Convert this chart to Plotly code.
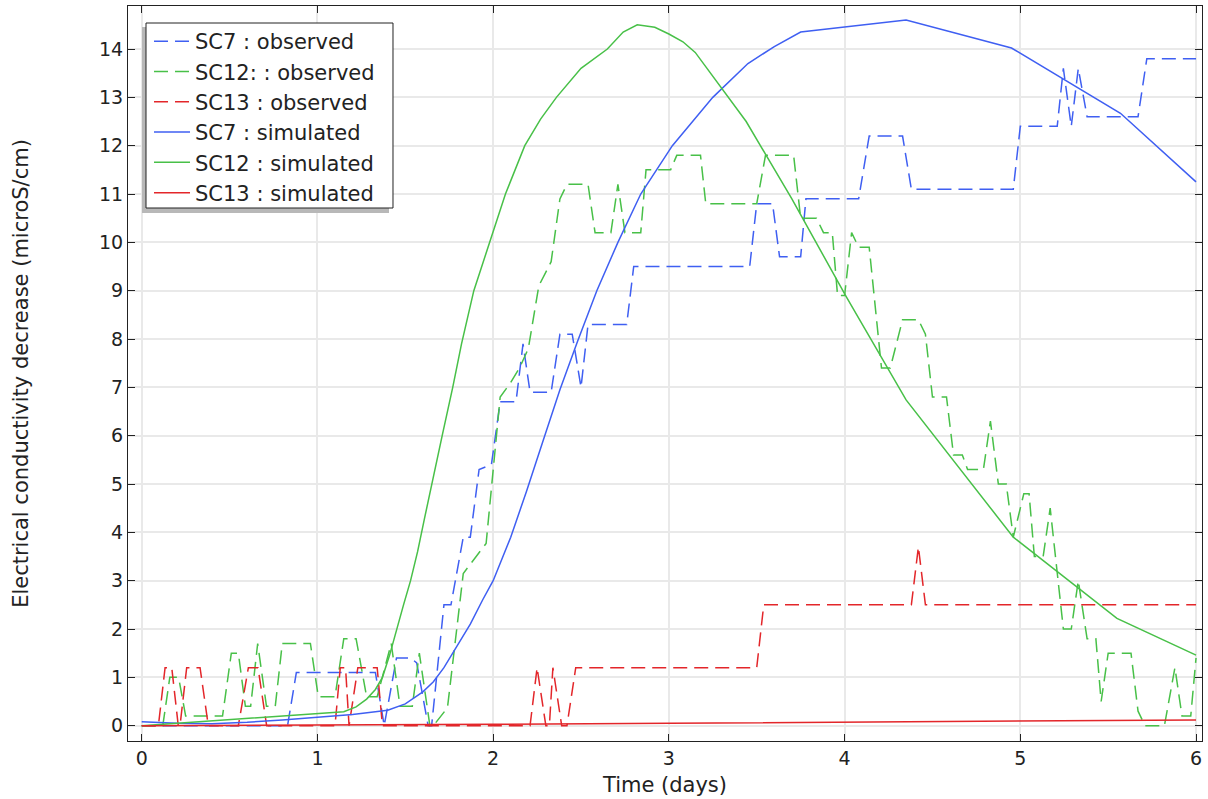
import plotly.graph_objects as go

# ---------------- data ----------------
sc7_obs_t = [0, 0.83, 0.88, 1.33, 1.38, 1.45, 1.53, 1.565, 1.63, 1.65, 1.72, 1.76, 1.83, 1.87,
             1.92, 1.99, 2.04, 2.13, 2.17, 2.21, 2.33, 2.38, 2.45, 2.50, 2.54, 2.76, 2.80,
             3.46, 3.50, 3.59, 3.63, 3.75, 3.78, 4.08, 4.14, 4.33, 4.38, 4.96, 5.00, 5.21,
             5.245, 5.29, 5.33, 5.38, 5.67, 5.72, 6.0]
sc7_obs_v = [0, 0, 1.1, 1.1, 0, 1.4, 1.4, 1.3, 0, 0, 2.5, 2.5, 3.9, 3.9,
             5.3, 5.4, 6.7, 6.7, 7.9, 6.9, 6.9, 8.1, 8.1, 7.0, 8.3, 8.3, 9.5,
             9.5, 10.8, 10.8, 9.7, 9.7, 10.9, 10.9, 12.2, 12.2, 11.1, 11.1, 12.4, 12.4,
             13.6, 12.4, 13.6, 12.6, 12.6, 13.8, 13.8]

sc12_obs_t = [0, 0.12, 0.16, 0.21, 0.25, 0.46, 0.51, 0.55, 0.59, 0.62, 0.66, 0.71, 0.76, 0.80,
              0.96, 1.005, 1.10, 1.15, 1.22, 1.28, 1.34, 1.42, 1.47, 1.54, 1.58, 1.64, 1.66,
              1.74, 1.83, 1.96, 2.04, 2.10, 2.15, 2.20, 2.26, 2.33, 2.38, 2.42, 2.54, 2.58,
              2.67, 2.71, 2.75, 2.84, 2.87, 3.01, 3.045, 3.18, 3.21, 3.50, 3.55, 3.71, 3.75,
              3.84, 3.88, 3.93, 3.96, 4.00, 4.04, 4.08, 4.14, 4.21, 4.26, 4.33, 4.42, 4.46,
              4.50, 4.58, 4.62, 4.67, 4.70, 4.79, 4.83, 4.875, 4.92, 4.96, 5.02, 5.05, 5.08,
              5.13, 5.17, 5.245, 5.29, 5.33, 5.38, 5.43, 5.46, 5.50, 5.63, 5.67, 5.71, 5.82,
              5.88, 5.92, 5.97, 6.0]
sc12_obs_v = [0, 0, 1.0, 1.0, 0.2, 0.2, 1.5, 1.5, 0.4, 0.4, 1.7, 0.4, 0.4, 1.7,
              1.7, 0.6, 0.6, 1.8, 1.8, 0.6, 0.6, 1.7, 0.4, 0.4, 1.5, 0, 0,
              0.37, 3.15, 3.77, 6.8, 7.1, 7.4, 7.8, 9.1, 9.6, 10.9, 11.2, 11.2, 10.2,
              10.2, 11.2, 10.2, 10.2, 11.5, 11.5, 11.8, 11.8, 10.8, 10.8, 11.8, 11.8, 10.5,
              10.5, 10.2, 10.2, 8.9, 8.9, 10.2, 9.9, 9.9, 7.4, 7.4, 8.4, 8.4, 8.1,
              6.8, 6.8, 5.6, 5.6, 5.3, 5.3, 6.3, 5.0, 5.0, 3.9, 4.8, 4.8, 3.5,
              3.5, 4.5, 2.0, 2.0, 3.0, 1.8, 1.8, 0.5, 1.5, 1.5, 0.3, 0, 0,
              1.2, 0.2, 0.2, 1.4]

sc13_obs_t = [0, 0.095, 0.133, 0.171, 0.208, 0.218, 0.256, 0.332, 0.379, 0.55, 0.607, 0.662,
              0.711, 1.10, 1.13, 1.16, 1.18, 1.23, 1.34, 1.37, 2.21, 2.25, 2.30, 2.32, 2.34,
              2.39, 2.42, 2.47, 3.50, 3.54, 4.38, 4.42, 4.46, 6.0]
sc13_obs_v = [0, 0, 1.2, 1.2, 0, 0, 1.2, 1.2, 0, 0, 1.2, 1.2,
              0, 0, 1.2, 1.2, 0, 1.2, 1.2, 0, 0, 1.2, 0, 0, 1.2,
              0, 0, 1.2, 1.2, 2.5, 2.5, 3.7, 2.5, 2.5]

sc7_sim_t = [0, 0.2, 0.4, 0.6, 0.8, 1.0, 1.2, 1.4, 1.5, 1.6, 1.66, 1.72, 1.79, 1.87, 1.94,
             2.0, 2.1, 2.19, 2.28, 2.38, 2.48, 2.59, 2.71, 2.84, 3.02, 3.25, 3.45, 3.6,
             3.75, 4.35, 4.95, 5.57, 6.0]
sc7_sim_v = [0.08, 0.05, 0.04, 0.07, 0.12, 0.18, 0.23, 0.32, 0.45, 0.7, 0.91, 1.2, 1.63,
             2.1, 2.6, 3.0, 3.9, 4.85, 5.85, 6.95, 7.95, 9.0, 10.0, 11.0, 12.0, 13.0, 13.7,
             14.05, 14.35, 14.6, 14.02, 12.67, 11.25]

sc12_sim_t = [0, 0.2, 0.5, 0.8, 1.0, 1.15, 1.22, 1.28, 1.33, 1.37, 1.41, 1.45, 1.49, 1.53,
              1.57, 1.61, 1.65, 1.71, 1.77, 1.82, 1.89, 1.98, 2.07, 2.18, 2.27, 2.36, 2.5,
              2.65, 2.74, 2.82, 2.92, 3.0, 3.08, 3.15, 3.35, 3.44, 3.7, 4.01, 4.35, 4.96,
              5.55, 6.0]
sc12_sim_v = [0.0, 0.05, 0.12, 0.2, 0.25, 0.29, 0.39, 0.55, 0.75, 1.0, 1.45, 2.0, 2.5, 3.0,
              3.6, 4.3, 5.0, 6.0, 7.0, 7.9, 9.0, 10.0, 11.0, 12.0, 12.55, 13.0, 13.6,
              14.0, 14.35, 14.5, 14.45, 14.31, 14.15, 13.93, 12.94, 12.5, 10.9, 8.87, 6.74,
              3.9, 2.22, 1.46]

sc13_sim_t = [0, 1, 2, 3, 4, 5, 6]
sc13_sim_v = [0.0, 0.01, 0.03, 0.05, 0.075, 0.1, 0.12]

names = ["SC7 : observed", "SC12: : observed", "SC13 : observed",
         "SC7 : simulated", "SC12 : simulated", "SC13 : simulated"]

BLUE = "#3f5ff2"
GREEN = "#48c048"
RED = "#e3262a"
DASH = "14px,7px"

fig = go.Figure()
series = [
    (sc7_obs_t, sc7_obs_v, BLUE, DASH),
    (sc12_obs_t, sc12_obs_v, GREEN, DASH),
    (sc13_obs_t, sc13_obs_v, RED, DASH),
    (sc7_sim_t, sc7_sim_v, BLUE, "solid"),
    (sc12_sim_t, sc12_sim_v, GREEN, "solid"),
    (sc13_sim_t, sc13_sim_v, RED, "solid"),
]
for (t, v, c, d), n in zip(series, names):
    fig.add_trace(go.Scatter(x=t, y=v, mode="lines", name=n,
                             line=dict(color=c, width=1.5, dash=d)))

FONT = "DejaVu Sans"
axis_common = dict(showgrid=True, gridcolor="#e9e9e9", gridwidth=2, zeroline=False,
                   showline=True, linecolor="#222222", linewidth=1, mirror="ticks",
                   ticks="inside", ticklen=7, tickcolor="#222222", tickwidth=1,
                   tickfont=dict(family=FONT, size=19, color="#222222"), dtick=1)

# legend frame (box + drop shadow), in paper coordinates
fig.add_shape(type="rect", xref="paper", yref="paper", layer="above",
              x0=0.01304, x1=0.24302, y0=0.71837, y1=0.97143,
              fillcolor="#b8b8b8", line=dict(width=0))
fig.add_shape(type="rect", xref="paper", yref="paper", layer="above",
              x0=0.01676, x1=0.24674, y0=0.72517, y1=0.97687,
              fillcolor="white", line=dict(color="#222222", width=1))

fig.update_layout(
    width=1208, height=799,
    margin=dict(l=128, r=6, t=6, b=58),
    paper_bgcolor="white", plot_bgcolor="white",
    font=dict(family=FONT, color="#222222"),
    xaxis=dict(range=[-0.078, 6.034], tick0=0,
               title=dict(text="Time (days)", font=dict(family=FONT, size=21), standoff=9),
               **axis_common),
    yaxis=dict(range=[-0.317, 14.89], tick0=0,
               title=dict(text="Electrical conductivity decrease (microS/cm)",
                          font=dict(family=FONT, size=21), standoff=64),
               **axis_common),
    legend=dict(x=(149 - 128) / 1074, y=0.9796, xanchor="left", yanchor="top",
                bgcolor="rgba(0,0,0,0)", borderwidth=0, itemwidth=36,
                font=dict(family=FONT, size=21, color="#222222"),
                tracegroupgap=0),
    showlegend=True,
)

fig.write_html("out.html")
